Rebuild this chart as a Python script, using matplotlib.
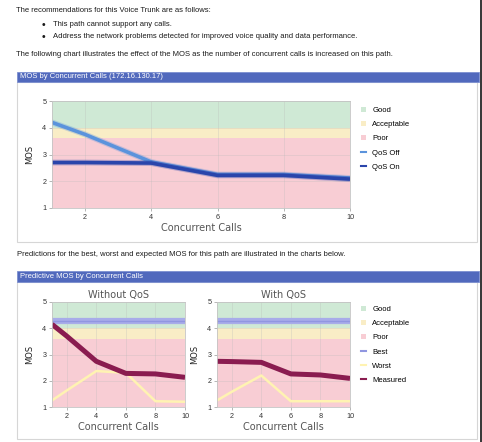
import matplotlib
matplotlib.use('Agg')
import matplotlib.pyplot as plt
from matplotlib.patches import Patch, Rectangle
from matplotlib.lines import Line2D

W, H = 482, 442

# --- data ---
calls = [1, 2, 4, 6, 8, 10]
qos_off = [4.2, 3.75, 2.72, 2.25, 2.25, 2.12]
qos_on = [2.7, 2.7, 2.68, 2.22, 2.22, 2.08]

noqos_measured = [4.15, 3.7, 2.74, 2.28, 2.26, 2.13]
noqos_worst = [1.25, 1.63, 2.37, 2.3, 1.22, 1.2]
qos_measured = [2.74, 2.73, 2.7, 2.26, 2.22, 2.09]
qos_worst = [1.25, 1.58, 2.2, 1.22, 1.22, 1.22]
best_mos = 4.28

band_names = ['Good', 'Acceptable', 'Poor']
band_lo = [4.0, 3.6, 1.0]
band_hi = [5.0, 4.0, 3.6]
band_colors = ['#cfe9d5', '#f9edc6', '#f8cdd4']

x_ticks = [2, 4, 6, 8, 10]
y_ticks = [1, 2, 3, 4, 5]

intro = 'The recommendations for this Voice Trunk are as follows:'
bullets = ['This path cannot support any calls.',
           'Address the network problems detected for improved voice quality and data performance.']
chart1_note = ('The following chart illustrates the effect of the MOS as the number of '
               'concurrent calls is increased on this path.')
chart2_note = ('Predictions for the best, worst and expected MOS for this path are '
               'illustrated in the charts below.')
header1 = 'MOS by Concurrent Calls (172.16.130.17)'
header2 = 'Predictive MOS by Concurrent Calls'

BODY = 'Liberation Sans'
CHART = 'DejaVu Sans'
FS = 5.5

fig = plt.figure(figsize=(W / 100, H / 100), dpi=100)
fig.patch.set_facecolor('white')


def box(x, y, w, h):
    # pixel box (top-left origin) -> figure fraction rect
    return [x / W, 1 - (y + h) / H, w / W, h / H]


def fx(x):
    return x / W


def fy(y):
    return 1 - y / H


def rect(x, y, w, h, **kw):
    fig.add_artist(Rectangle((fx(x), fy(y + h)), w / W, h / H,
                             transform=fig.transFigure, **kw))


# text of the report
fig.text(fx(16), fy(11), intro, family=BODY, fontsize=FS, color='#1a1a1a', va='center')
for i, b in enumerate(bullets):
    yy = 25 + 12 * i
    fig.text(fx(43), fy(yy), '\u2022', family=BODY, fontsize=FS + 2, color='#1a1a1a',
             va='center', ha='center')
    fig.text(fx(53), fy(yy), b, family=BODY, fontsize=FS, color='#1a1a1a', va='center')
fig.text(fx(16), fy(55), chart1_note, family=BODY, fontsize=FS, color='#1a1a1a', va='center')
fig.text(fx(17), fy(255), chart2_note, family=BODY, fontsize=FS, color='#1a1a1a', va='center')

# panels and header bars
rect(17, 82, 460, 160, fill=False, edgecolor='#d6d6d6', lw=0.8)
rect(17, 282, 460, 157, fill=False, edgecolor='#d6d6d6', lw=0.8)
rect(17, 72, 462, 10, facecolor='#5169bd', edgecolor='#7d90d0', lw=0.6)
rect(17, 271, 462, 11, facecolor='#5169bd', edgecolor='#7d90d0', lw=0.6)
fig.text(fx(20), fy(77), header1, family=BODY, fontsize=FS, color='white', va='center')
fig.text(fx(20), fy(276.5), header2, family=BODY, fontsize=FS, color='white', va='center')
# dark page edge on the right
rect(480, 0, 2, H, facecolor='#3a3a3a', edgecolor='none')


def style(ax, title=None):
    for lo, hi, c in zip(band_lo, band_hi, band_colors):
        ax.axhspan(lo, hi, color=c, lw=0, zorder=0)
    ax.set_xlim(1, 10)
    ax.set_ylim(1, 5)
    ax.set_xticks(x_ticks)
    ax.set_yticks(y_ticks)
    ax.grid(color='#b8b8b8', lw=0.4, alpha=0.5)
    for s in ax.spines.values():
        s.set_color('#c4c4c4')
        s.set_linewidth(0.6)
    ax.tick_params(labelsize=FS - 0.3, colors='#999', labelcolor='#333',
                   length=2, width=0.5, pad=2)
    for lab in ax.get_xticklabels() + ax.get_yticklabels():
        lab.set_family(BODY)
    ax.set_xlabel('Concurrent Calls', family=CHART, fontsize=7, color='#555', labelpad=2)
    ax.set_ylabel('MOS', family=CHART, fontsize=6, color='#222', labelpad=6)
    if title:
        ax.set_title(title, family=CHART, fontsize=7, color='#555', pad=3)


def band_handles():
    return [Patch(facecolor=c, edgecolor='none') for c in band_colors]


def put_legend(ax, handles, labels, top):
    ax.legend(handles, labels, loc='upper left',
              bbox_to_anchor=(fx(361), fy(top)), bbox_transform=fig.transFigure,
              frameon=False, prop={'family': BODY, 'size': FS},
              handlelength=0.7, handleheight=0.7, handletextpad=0.8,
              labelspacing=0.88, borderaxespad=0, borderpad=0)


# --- chart 1 ---
ax1 = fig.add_axes(box(52, 101, 298, 107))
style(ax1)
ax1.plot(calls, qos_off, color='#5b93dc', lw=4.2, alpha=0.3, solid_capstyle='butt')
ax1.plot(calls, qos_off, color='#5b93dc', lw=2.6, solid_capstyle='butt')
ax1.plot(calls, qos_on, color='#2a45ab', lw=4.2, alpha=0.3, solid_capstyle='butt')
ax1.plot(calls, qos_on, color='#2a45ab', lw=2.6, solid_capstyle='butt')
h1 = band_handles() + [Line2D([], [], color='#5b93dc', lw=1.5),
                       Line2D([], [], color='#2a45ab', lw=1.5)]
put_legend(ax1, h1, band_names + ['QoS Off', 'QoS On'], 107)

# --- chart 2: without / with QoS ---
ax2 = fig.add_axes(box(52, 302, 133, 105))
ax3 = fig.add_axes(box(217, 302, 133, 105))
for ax, title, measured, worst in [(ax2, 'Without QoS', noqos_measured, noqos_worst),
                                   (ax3, 'With QoS', qos_measured, qos_worst)]:
    style(ax, title)
    ax.axhline(best_mos, color='#a8ace9', lw=4.5)
    ax.axhline(best_mos, color='#9096e0', lw=1.0)
    ax.plot(calls, worst, color='#fff3b2', lw=1.8)
    ax.plot(calls, measured, color='#8a1c50', lw=3.6, solid_capstyle='butt')

h2 = band_handles() + [Line2D([], [], color='#9096e0', lw=1.5),
                       Line2D([], [], color='#fff3b2', lw=1.5),
                       Line2D([], [], color='#8a1c50', lw=1.5)]
put_legend(ax3, h2, band_names + ['Best', 'Worst', 'Measured'], 306)

fig.savefig('out.png', dpi=100, facecolor='white')
